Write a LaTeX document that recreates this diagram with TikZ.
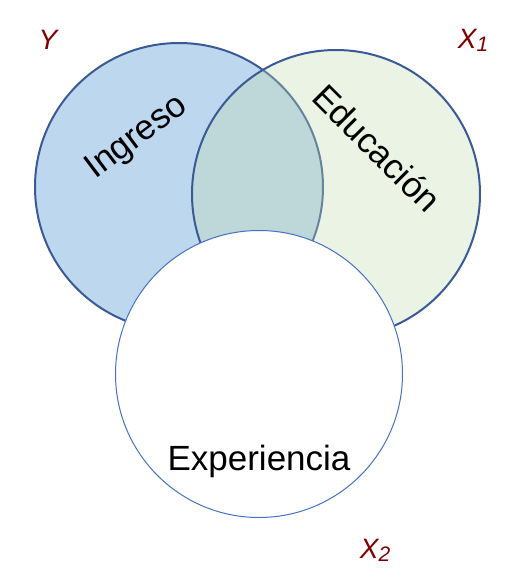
\documentclass[tikz,border=0pt]{standalone}
\usepackage{fontspec}
\setmainfont{Liberation Sans}
\usepackage{tikz}
\usepackage{xcolor}
\usetikzlibrary{positioning}
\definecolor{vnBlue}{RGB}{189,215,238}
\definecolor{vnGreen}{RGB}{194,218,176}
\definecolor{vnEdge}{RGB}{58,90,150}
\definecolor{vnThin}{RGB}{68,114,196}
\definecolor{vnRed}{RGB}{128,0,0}
\newcommand{\varlabel}[1]{\fontsize{28}{30}\selectfont\itshape #1}

\begin{document}
\begin{tikzpicture}[x=1pt,y=-1pt,
  setcircle/.style={circle,minimum size=288pt,inner sep=0pt},
  settext/.style={font=\fontsize{35}{40}\selectfont,text=black}]
  \useasboundingbox (0,0) rectangle (517,584);
  % the three sets
  \node[setcircle,fill=vnBlue,draw=vnEdge,line width=2pt] (setY) at (179,187) {};
  \node[setcircle,fill=vnGreen,fill opacity=0.33,draw=vnEdge,line width=2pt] (setXa) at (336,194) {};
  \node[setcircle,fill=white,draw=vnThin,line width=1pt,minimum size=287pt] (setXb) at (259,374) {};
  % set names
  \node[settext,rotate=37] (ingreso) at (137,138) {Ingreso};
  \node[settext,rotate=-45] (educacion) at (377,148) {Educación};
  \node[settext] (experiencia) at (259,461) {Experiencia};
  % variable labels
  \node[text=vnRed] (lblY) at (48,40) {\varlabel{Y}};
  \node[text=vnRed] (lblXa) at (473,40) {\varlabel{X\raisebox{-3pt}{\fontsize{21}{21}\selectfont 1}}};
  \node[text=vnRed] (lblXb) at (375,550) {\varlabel{X\raisebox{-3pt}{\fontsize{21}{21}\selectfont 2}}};
\end{tikzpicture}
\end{document}
